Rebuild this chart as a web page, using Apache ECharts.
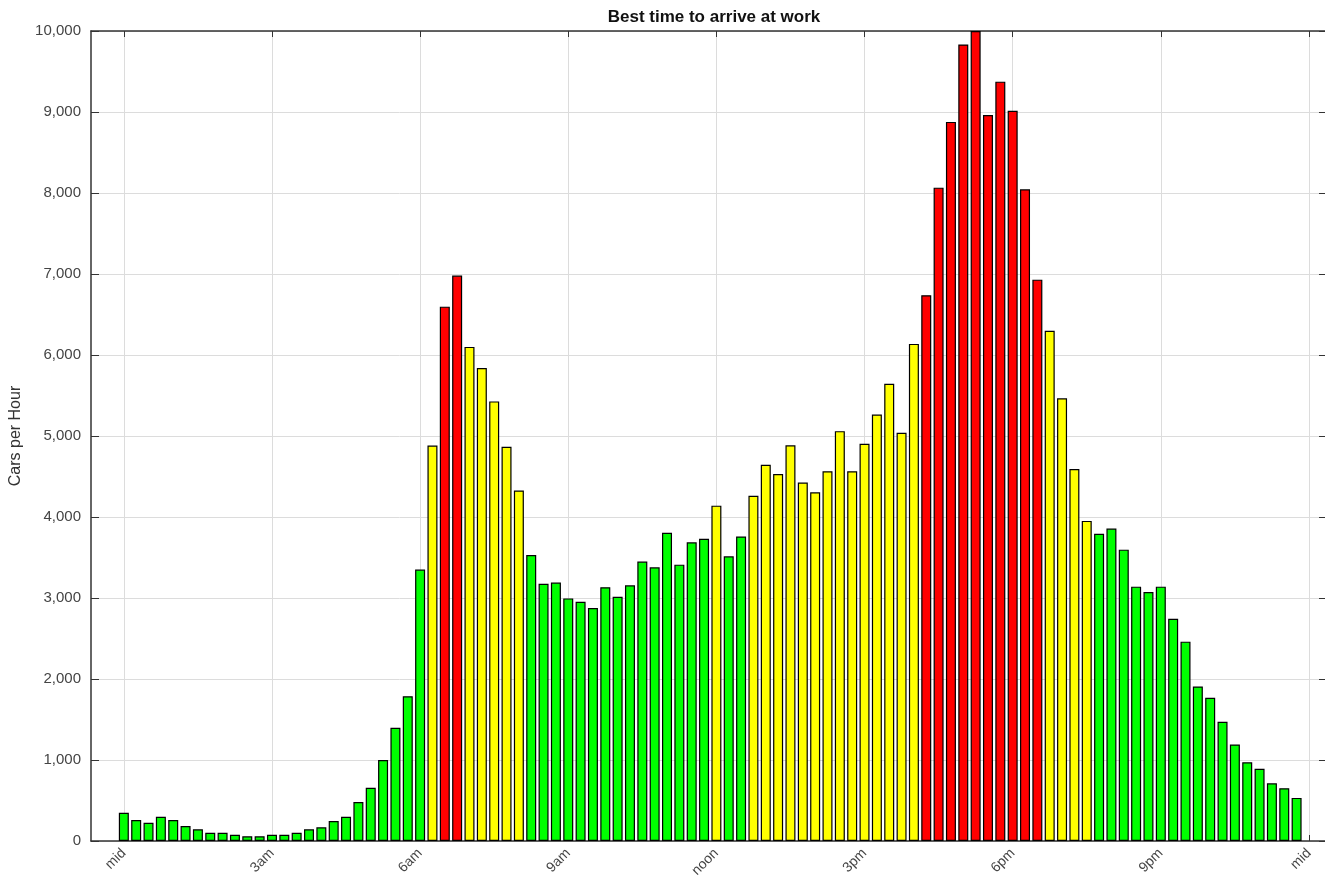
<!DOCTYPE html>
<html><head><meta charset="utf-8">
<script src="https://cdn.jsdelivr.net/npm/echarts@6/dist/echarts.min.js"></script>
<style>html,body{margin:0;padding:0;background:#fff}#c{width:1325px;height:883px}</style>
</head><body><div id="c"></div>
<script>
// 15-minute slots from midnight (index 0..95)
var carsPerHour = [
  349, 259, 226, 300, 259, 185, 144, 102, 102, 78, 58, 58,
  78, 78, 102, 144, 169, 247, 300, 481, 657, 999, 1398, 1787,
  3351, 4882, 6597, 6981, 6100, 5839, 5427, 4867, 4327, 3531, 3175, 3190,
  2995, 2953, 2877, 3133, 3014, 3156, 3450, 3379, 3806, 3412, 3687, 3730,
  4140, 3515, 3760, 4262, 4645, 4530, 4885, 4425, 4305, 4565, 5060, 4565,
  4905, 5265, 5645, 5040, 6137, 6738, 8066, 8878, 9834, 10000, 8962, 9375,
  9015, 8045, 6930, 6298, 5465, 4592, 3952, 3792, 3857, 3597, 3140, 3074,
  3140, 2744, 2461, 1908, 1768, 1473, 1192, 972, 892, 712, 652, 532
];
var tickSlots = [0, 12, 24, 36, 48, 60, 72, 84, 96];
var tickLabels = ['mid', '3am', '6am', '9am', 'noon', '3pm', '6pm', '9pm', 'mid'];
var levelLimits = [3900, 6500];
var levelColors = ['#00ff00', '#ffff00', '#ff0000'];

function colorFor(v) {
  if (v > levelLimits[1]) return levelColors[2];
  if (v > levelLimits[0]) return levelColors[1];
  return levelColors[0];
}
var barData = carsPerHour.map(function (v, i) {
  return { value: [i, v], itemStyle: { color: colorFor(v) } };
});
var fontFam = '"Liberation Sans", Arial, sans-serif';
var xMin = -2.66, xMax = 97.3;

var chart = echarts.init(document.getElementById('c'), null, { renderer: 'canvas' });
chart.setOption({
  animation: false,
  backgroundColor: '#fff',
  title: {
    text: 'Best time to arrive at work', left: 709, top: 4, textAlign: 'center',
    textStyle: { fontFamily: fontFam, fontSize: 17, fontWeight: 'bold', color: '#111' }
  },
  grid: { left: 90, right: -4, top: 31, bottom: 42, containLabel: false },
  xAxis: [{
    type: 'value', min: xMin, max: xMax, position: 'bottom',
    axisLine: { show: true, onZero: false, lineStyle: { color: '#333', width: 1.5 } },
    axisTick: { show: true, inside: true, length: 6, customValues: tickSlots, lineStyle: { color: '#333' } },
    axisLabel: {
      customValues: tickSlots, rotate: 45, margin: 10,
      fontFamily: fontFam, fontSize: 14, color: '#444',
      formatter: function (v) { var k = tickSlots.indexOf(Math.round(v)); return k >= 0 ? tickLabels[k] : ''; }
    },
    splitLine: { show: true, lineStyle: { color: '#dcdcdc', width: 1 } }
  }, {
    type: 'value', min: xMin, max: xMax, position: 'top',
    axisLine: { show: true, onZero: false, lineStyle: { color: '#333', width: 1.5 } },
    axisTick: { show: true, inside: true, length: 6, customValues: tickSlots, lineStyle: { color: '#333' } },
    axisLabel: { show: false }, splitLine: { show: false }
  }],
  yAxis: [{
    type: 'value', min: 0, max: 10000, interval: 1000, position: 'left',
    name: 'Cars per Hour', nameLocation: 'middle', nameGap: 67, nameRotate: 90,
    nameTextStyle: { fontFamily: fontFam, fontSize: 16, color: '#333' },
    axisLine: { show: true, onZero: false, lineStyle: { color: '#333', width: 1.5 } },
    axisTick: { show: true, inside: true, length: 8, lineStyle: { color: '#333' } },
    axisLabel: {
      margin: 10, fontFamily: fontFam, fontSize: 15, color: '#444',
      formatter: function (v) { return v.toLocaleString('en-US'); }
    },
    splitLine: { show: true, lineStyle: { color: '#dcdcdc', width: 1 } }
  }, {
    type: 'value', min: 0, max: 10000, interval: 1000, position: 'right',
    axisLine: { show: false, onZero: false },
    axisTick: { show: true, inside: true, length: 6, lineStyle: { color: '#333' } },
    axisLabel: { show: false }, splitLine: { show: false }
  }],
  series: [{
    type: 'bar', xAxisIndex: 0, yAxisIndex: 0,
    data: barData, barWidth: 10,
    itemStyle: { borderColor: '#000', borderWidth: 1.2 }
  }]
});
</script></body></html>
